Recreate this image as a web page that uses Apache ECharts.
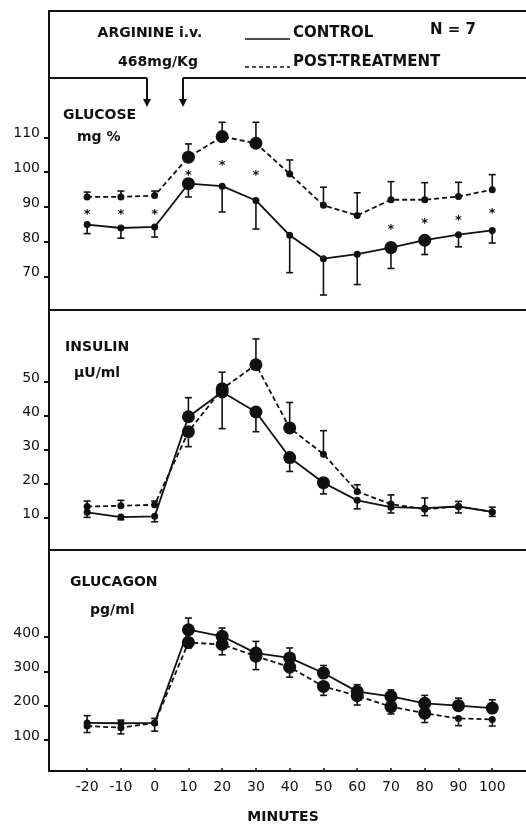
<!DOCTYPE html>
<html><head><meta charset="utf-8">
<script src="https://cdn.jsdelivr.net/npm/echarts@6/dist/echarts.min.js"></script>
<style>html,body{margin:0;padding:0;background:#fff}#main{width:526px;height:826px}</style>
</head><body><div id="main"></div>
<script>
// ---- data ----
const minutes = [-20, -10, 0, 10, 20, 30, 40, 50, 60, 70, 80, 90, 100];
const minuteTicks = [-20, -10, 0, 10, 20, 30, 40, 50, 60, 70, 80, 90, 100];

const glucoseTicks = [70, 80, 90, 100, 110];
const glucoseControl    = [85.0, 84.0, 84.3, 96.7, 96.0, 91.9, 81.9, 75.2, 76.5, 78.4, 80.5, 82.1, 83.3];
const glucoseControlErr = [82.4, 81.1, 81.4, 92.9, 88.6, 83.7, 71.2, 64.8, 67.8, 72.4, 76.4, 78.6, 79.7];
const glucoseControlSig = [0, 0, 0, 1, 0, 0, 0, 0, 0, 1, 1, 0, 0];
const glucosePost       = [92.9, 92.9, 93.3, 104.3, 110.2, 108.3, 99.5, 90.5, 87.6, 92.1, 92.1, 93.0, 95.0];
const glucosePostErr    = [94.3, 94.6, 94.6, 108.1, 114.3, 114.3, 103.5, 95.7, 94.1, 97.3, 97.0, 97.1, 99.3];
const glucosePostSig    = [0, 0, 0, 1, 1, 1, 0, 0, 0, 0, 0, 0, 0];
const glucoseStarMinutes = [-20, -10, 0, 10, 20, 30, 70, 80, 90, 100];
const glucoseStarValues  = [88.6, 88.6, 88.6, 100.0, 102.6, 100.0, 84.3, 86.0, 87.1, 89.0];

const insulinTicks = [10, 20, 30, 40, 50];
const insulinControl    = [11.7, 10.3, 10.5, 39.8, 47.1, 41.2, 27.8, 20.4, 15.2, 13.2, 12.9, 13.4, 11.8];
const insulinControlErr = [10.2, 9.5, 8.9, 45.4, 36.3, 35.4, 23.7, 17.1, 12.7, 11.5, 10.7, 11.5, 10.5];
const insulinControlSig = [0, 0, 0, 1, 1, 1, 1, 1, 0, 0, 0, 0, 0];
const insulinPost       = [13.4, 13.6, 13.9, 35.4, 48.0, 55.1, 36.5, 28.8, 17.8, 14.1, 12.6, 13.4, 11.8];
const insulinPostErr    = [15.0, 15.2, 15.0, 31.0, 52.9, 62.7, 44.0, 35.7, 19.8, 16.8, 15.9, 14.9, 13.2];
const insulinPostSig    = [0, 0, 0, 1, 1, 1, 1, 0, 0, 0, 0, 0, 0];

const glucagonTicks = [100, 200, 300, 400];
const glucagonControl    = [150, 149, 150, 421, 402, 353, 339, 295, 241, 227, 207, 200, 193];
const glucagonControlErr = [171, 158, 163, 455, 426, 387, 368, 317, 261, 246, 230, 222, 217];
const glucagonControlSig = [0, 0, 0, 1, 1, 1, 1, 1, 1, 1, 1, 1, 1];
const glucagonPost       = [141, 136, 150, 384, 378, 344, 312, 256, 229, 197, 178, 163, 160];
const glucagonPostErr    = [122, 118, 126, 368, 348, 305, 283, 230, 202, 176, 151, 142, 141];
const glucagonPostSig    = [0, 0, 0, 1, 1, 1, 1, 1, 1, 1, 1, 0, 0];

// ---- styling / layout ----
const FONT = '"DejaVu Sans", sans-serif';
const INK = '#111111';
const panels = [
  { top: 78,  height: 232, min: 60.5, max: 127, ticks: glucoseTicks },
  { top: 310, height: 240, min: 0.6,  max: 71.2, ticks: insulinTicks },
  { top: 550, height: 221, min: 10,   max: 653, ticks: glucagonTicks }
];

function dots(vals, sig) {
  return minutes.map((m, i) => ({ value: [m, vals[i]], symbolSize: sig[i] ? 13 : 7 }));
}
function bars(vals, tips) {
  return minutes.map((m, i) => [m, vals[i], tips[i]]);
}
function errRender(params, api) {
  const x = api.value(0), y = api.value(1), t = api.value(2);
  const a = api.coord([x, y]), b = api.coord([x, t]);
  return { type: 'group', children: [
    { type: 'line', shape: { x1: a[0], y1: a[1], x2: b[0], y2: b[1] }, style: { stroke: INK, lineWidth: 1.6 } },
    { type: 'line', shape: { x1: b[0] - 3.5, y1: b[1], x2: b[0] + 3.5, y2: b[1] }, style: { stroke: INK, lineWidth: 1.6 } }
  ]};
}
function starRender(params, api) {
  const p = api.coord([api.value(0), api.value(1)]);
  return { type: 'text', style: { text: '*', x: p[0], y: p[1] + 3, fill: INK,
    font: 'bold 13px ' + FONT, align: 'center', verticalAlign: 'middle',
    textAlign: 'center', textVerticalAlign: 'middle' } };
}

const grids = panels.map(p => ({ left: 50, width: 476, top: p.top, height: p.height, show: false }));
const xAxes = panels.map((p, i) => ({
  type: 'value', gridIndex: i, min: -31, max: 110, show: i === 2,
  splitLine: { show: false },
  axisLine: { show: i === 2, onZero: false, lineStyle: { color: INK, width: 2 } },
  axisTick: { show: true, inside: true, length: 3, customValues: minuteTicks, lineStyle: { color: INK, width: 1.5 } },
  axisLabel: { customValues: minuteTicks, margin: 9, fontSize: 14, fontFamily: FONT, color: INK }
}));
const yAxes = panels.map((p, i) => ({
  type: 'value', gridIndex: i, min: p.min, max: p.max, position: 'left',
  splitLine: { show: false },
  axisLine: { show: false, onZero: false },
  axisTick: { show: true, length: 6, customValues: p.ticks, lineStyle: { color: INK, width: 2 } },
  axisLabel: { customValues: p.ticks, margin: 10, fontSize: 14, fontFamily: FONT, color: INK,
    verticalAlign: 'bottom', lineHeight: 8 }
}));

function lineSeries(name, i, vals, sig, dashed) {
  return {
    name: name, type: 'line', xAxisIndex: i, yAxisIndex: i,
    data: dots(vals, sig), symbol: 'circle', z: 3,
    lineStyle: { color: INK, width: 1.8, type: dashed ? [5, 3] : 'solid' },
    itemStyle: { color: INK },
    emphasis: { disabled: true }, animation: false
  };
}
function errSeries(i, vals, tips) {
  return { type: 'custom', xAxisIndex: i, yAxisIndex: i, data: bars(vals, tips),
    encode: { x: 0, y: [1, 2] }, renderItem: errRender, z: 2, animation: false };
}

const series = [
  errSeries(0, glucoseControl, glucoseControlErr),
  errSeries(0, glucosePost, glucosePostErr),
  lineSeries('CONTROL', 0, glucoseControl, glucoseControlSig, false),
  lineSeries('POST-TREATMENT', 0, glucosePost, glucosePostSig, true),
  { type: 'custom', xAxisIndex: 0, yAxisIndex: 0,
    data: glucoseStarMinutes.map((m, i) => [m, glucoseStarValues[i]]),
    encode: { x: 0, y: 1 }, renderItem: starRender, animation: false },
  errSeries(1, insulinControl, insulinControlErr),
  errSeries(1, insulinPost, insulinPostErr),
  lineSeries('CONTROL', 1, insulinControl, insulinControlSig, false),
  lineSeries('POST-TREATMENT', 1, insulinPost, insulinPostSig, true),
  errSeries(2, glucagonControl, glucagonControlErr),
  errSeries(2, glucagonPost, glucagonPostErr),
  lineSeries('CONTROL', 2, glucagonControl, glucagonControlSig, false),
  lineSeries('POST-TREATMENT', 2, glucagonPost, glucagonPostSig, true)
];

function gLine(x1, y1, x2, y2, w, dash) {
  return { type: 'line', silent: true, shape: { x1, y1, x2, y2 },
    style: { stroke: INK, lineWidth: w || 2, lineDash: dash || null } };
}
function gText(text, x, y, size, weight, align) {
  return { type: 'text', silent: true, style: { text, x, y, fill: INK,
    font: (weight || 'bold') + ' ' + size + 'px ' + FONT,
    align: align || 'left', verticalAlign: 'middle',
    textAlign: align || 'left', textVerticalAlign: 'middle' } };
}
function arrow(x, y1, y2) {
  return [gLine(x, y1, x, y2 - 6, 2),
    { type: 'polygon', silent: true, shape: { points: [[x - 4, y2 - 8], [x + 4, y2 - 8], [x, y2]] }, style: { fill: INK } }];
}

const graphic = [
  gLine(49, 10, 49, 772, 2),
  gLine(48, 11, 526, 11, 2),
  gLine(49, 78, 147, 78, 2),
  gLine(183, 78, 526, 78, 2),
  ...arrow(147, 78, 107),
  ...arrow(183, 78, 107),
  gLine(49, 310, 526, 310, 2),
  gLine(49, 550, 526, 550, 2),
  gLine(245, 39, 290, 39, 1.6),
  gLine(245, 67, 290, 67, 1.6, [4, 3]),
  gText('ARGININE i.v.', 150, 33, 14, 'bold', 'center'),
  gText('468mg/Kg', 158, 62, 14, 'bold', 'center'),
  gText('CONTROL', 293, 33, 15, 'bold'),
  gText('N = 7', 430, 30, 15, 'bold'),
  gText('POST-TREATMENT', 293, 62, 15, 'bold'),
  gText('GLUCOSE', 63, 115, 14, 'bold'),
  gText('mg %', 77, 137, 14, 'bold'),
  gText('INSULIN', 65, 347, 14, 'bold'),
  gText('\u03bcU/ml', 74, 373, 14, 'bold'),
  gText('GLUCAGON', 70, 582, 14, 'bold'),
  gText('pg/ml', 90, 610, 14, 'bold'),
  gText('MINUTES', 283, 817, 14, 'bold', 'center')
];

const chart = echarts.init(document.getElementById('main'), null, { renderer: 'canvas' });
chart.setOption({
  animation: false,
  backgroundColor: '#ffffff',
  textStyle: { fontFamily: FONT },
  grid: grids, xAxis: xAxes, yAxis: yAxes, series: series, graphic: graphic
});
</script></body></html>
